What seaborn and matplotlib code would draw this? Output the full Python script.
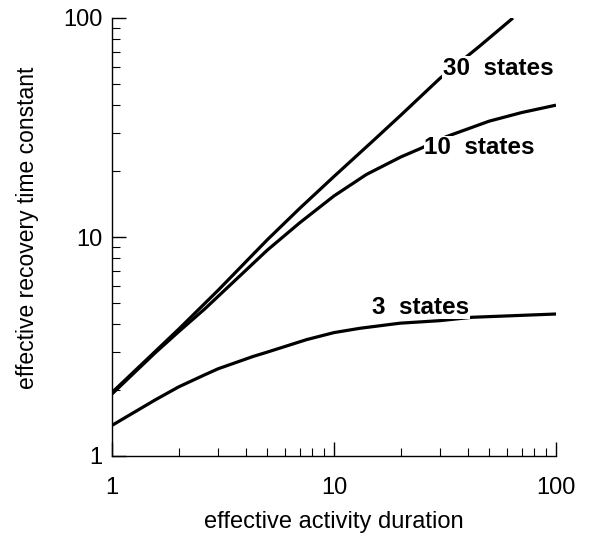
import numpy as np
import pandas as pd
import matplotlib
matplotlib.use("Agg")
import matplotlib.pyplot as plt
import seaborn as sns
from matplotlib.ticker import FixedLocator, FixedFormatter, LogLocator, NullFormatter

# ---- data ----
x_30 = [1, 1.5, 2, 3, 5, 7, 10, 15, 20, 30, 45, 64]
y_30 = [1.95, 2.88, 3.8, 5.7, 9.7, 13.5, 18.9, 27.5, 36, 53, 74, 100]

x_10 = [1, 1.56, 2, 2.62, 5, 7, 10, 14, 20, 24.4, 32, 50, 70, 100]
y_10 = [1.92, 2.95, 3.7, 4.7, 8.7, 11.6, 15.4, 19.3, 23.2, 25.3, 28.7, 33.8, 37, 40]

x_3 = [1, 1.56, 2, 2.62, 3, 4.33, 5, 7.53, 10, 13.1, 19.8, 30, 42, 100]
y_3 = [1.38, 1.80, 2.07, 2.35, 2.5, 2.85, 2.98, 3.40, 3.66, 3.83, 4.04, 4.15, 4.3, 4.45]

series_labels = ["30  states", "10  states", "3  states"]
tick_values = [1, 10, 100]
tick_labels = ["1", "10", "100"]
x_title = "effective activity duration"
y_title = "effective recovery time constant"

df = pd.concat([
    pd.DataFrame({"x": x_30, "y": y_30, "series": series_labels[0]}),
    pd.DataFrame({"x": x_10, "y": y_10, "series": series_labels[1]}),
    pd.DataFrame({"x": x_3, "y": y_3, "series": series_labels[2]}),
])

sns.set_theme(style="ticks")
plt.rcParams["font.family"] = ["Liberation Sans", "DejaVu Sans"]

fig = plt.figure(figsize=(5.89, 5.47), dpi=100)
ax = fig.add_axes([112 / 589, 1 - 456 / 547, (556 - 112) / 589, (456 - 18) / 547])

sns.lineplot(data=df, x="x", y="y", hue="series",
             palette={s: "black" for s in series_labels},
             linewidth=2.3, legend=False, ax=ax, sort=True, estimator=None)
for line in ax.get_lines():
    line.set_solid_joinstyle("round")
    line.set_solid_capstyle("butt")

ax.set_xscale("log")
ax.set_yscale("log")
ax.set_xlim(1, 100)
ax.set_ylim(1, 100)

for axis in (ax.xaxis, ax.yaxis):
    axis.set_major_locator(FixedLocator(tick_values))
    axis.set_major_formatter(FixedFormatter(tick_labels))
    axis.set_minor_locator(LogLocator(base=10, subs=np.arange(2, 10)))
    axis.set_minor_formatter(NullFormatter())

ax.tick_params(axis="both", which="major", direction="in", length=10, width=1,
               color="black", labelsize=17, labelcolor="black")
ax.tick_params(axis="both", which="minor", direction="in", length=5.5, width=0.8,
               color="black")
ax.tick_params(axis="x", which="major", pad=15)
ax.tick_params(axis="y", which="major", pad=7)

for side in ("top", "right"):
    ax.spines[side].set_visible(False)
for side in ("left", "bottom"):
    ax.spines[side].set_linewidth(1.0)
    ax.spines[side].set_color("black")

ax.set_xlabel(x_title, fontsize=17, labelpad=9, color="black")
ax.set_ylabel(y_title, fontsize=16.5, labelpad=17, color="black", y=0.52)

# curve labels (white box breaks the curve like the reference)
label_pos = [(31, 59), (25.5, 25.5), (14.8, 4.78)]
for lab, (lx, ly) in zip(series_labels, label_pos):
    ax.text(lx, ly, lab, fontsize=17.5, fontweight="bold", ha="left", va="center",
            color="black",
            bbox=dict(facecolor="white", edgecolor="none", pad=0.5))

ax.set_facecolor("white")
fig.patch.set_facecolor("white")
fig.savefig("out.png", dpi=100, facecolor="white")
